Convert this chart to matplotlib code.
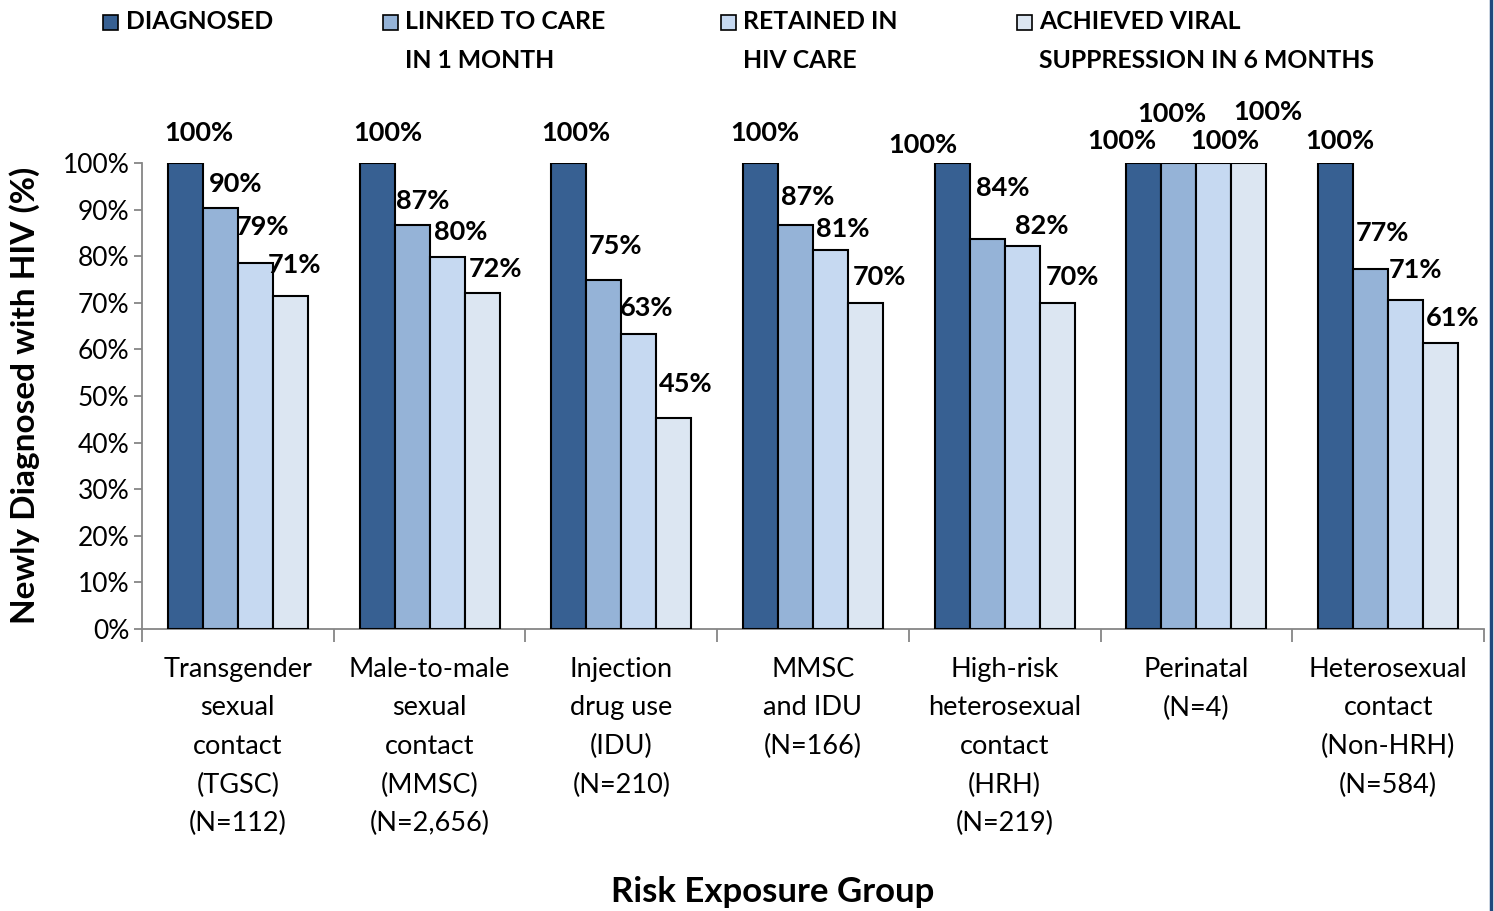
import matplotlib
matplotlib.use("Agg")
import matplotlib.pyplot as plt
from matplotlib.patches import Rectangle
from matplotlib.lines import Line2D

# ---------------- data ----------------
categories = [
    "Transgender\nsexual\ncontact\n(TGSC)\n(N=112)",
    "Male-to-male\nsexual\ncontact\n(MMSC)\n(N=2,656)",
    "Injection\ndrug use\n(IDU)\n(N=210)",
    "MMSC\nand IDU\n(N=166)",
    "High-risk\nheterosexual\ncontact\n(HRH)\n(N=219)",
    "Perinatal\n(N=4)",
    "Heterosexual\ncontact\n(Non-HRH)\n(N=584)",
]
series_names = ["DIAGNOSED", "LINKED TO CARE\nIN 1 MONTH", "RETAINED IN\nHIV CARE",
                "ACHIEVED VIRAL\nSUPPRESSION IN 6 MONTHS"]
diagnosed = [100, 100, 100, 100, 100, 100, 100]
linked = [90.4, 86.7, 74.8, 86.7, 83.6, 100, 77.2]
retained = [78.6, 79.8, 63.3, 81.3, 82.2, 100, 70.7]
suppressed = [71.4, 72.0, 45.2, 69.9, 69.9, 100, 61.4]
yticks = list(range(0, 101, 10))

series = [diagnosed, linked, retained, suppressed]
colors = ["#376092", "#95B3D7", "#C6D9F1", "#DCE6F2"]

# label offsets in pixels (dx, dy) relative to bar top-center
label_offsets = [
    [(13.5, 30), (15.5, 24), (7.5, 36), (4.5, 31)],
    [(10.5, 30), (10.5, 24), (13.5, 25), (13.5, 24)],
    [(7.5, 30), (11.5, 34), (7.5, 26), (11.5, 34)],
    [(4.5, 30), (12.5, 28), (12.5, 21), (14, 26)],
    [(-29.5, 18), (15.5, 51), (19.5, 20), (15, 26)],
    [(-22.5, 22), (-7.5, 49), (10.5, 22), (18.5, 51)],
    [(4.5, 22), (11.5, 36), (9.5, 30), (12.5, 25)],
]

FONT = "Lato"
W, H = 1494, 911
fig = plt.figure(figsize=(W / 100, H / 100), dpi=100)
fig.patch.set_facecolor("white")
ax = fig.add_axes([142 / W, 1 - 629 / H, (1484 - 142) / W, (629 - 163) / H])

n = len(categories)
bw = 35 / ((1484 - 142) / 7)
for s, (vals, c) in enumerate(zip(series, colors)):
    xs = [i + 0.5 + (s - 1.5) * bw for i in range(n)]
    ax.bar(xs, vals, width=bw, color=c, edgecolor="black", linewidth=1.5, zorder=3)
    for i, (x, v) in enumerate(zip(xs, vals)):
        dx, dy = label_offsets[i][s]
        ax.annotate(f"{v:.0f}%", (x, v), xytext=(dx, dy), textcoords="offset pixels",
                    ha="center", va="center", fontsize=19.5, fontweight="bold",
                    family=FONT, color="black", zorder=5)

ax.set_xlim(0, n)
ax.set_ylim(0, 100)
ax.set_yticks(yticks)
ax.set_yticklabels([f"{t}%" for t in yticks], fontsize=19, family=FONT)
ax.set_xticks(range(n + 1))
ax.set_xticklabels([])
ax.set_xticks([i + 0.5 for i in range(n)], minor=True)
ax.set_xticklabels(categories, minor=True, fontsize=19.5, family=FONT, linespacing=1.68, va="top")
ax.tick_params(axis="x", which="major", length=9, color="#868686", width=1.3, direction="out")
ax.tick_params(axis="x", which="minor", length=0, pad=20)
ax.tick_params(axis="y", length=6, color="#868686", width=1.3, pad=3)
for sp in ["top", "right"]:
    ax.spines[sp].set_visible(False)
for sp in ["left", "bottom"]:
    ax.spines[sp].set_color("#868686")
    ax.spines[sp].set_linewidth(1.3)

fig.text(25 / W, 1 - 395 / H, "Newly Diagnosed with HIV (%)", rotation=90, ha="center", va="center",
         fontsize=24, fontweight="bold", family=FONT)
fig.text(773 / W, 1 - 892 / H, "Risk Exposure Group", ha="center", va="center",
         fontsize=25, fontweight="bold", family=FONT)

# legend drawn manually
leg_sq_x = [103, 383, 721, 1017]
leg_tx_x = [126, 405, 743, 1039]
for name, c, sx, tx in zip(series_names, colors, leg_sq_x, leg_tx_x):
    fig.patches.append(Rectangle((sx / W, 1 - 30 / H), 15 / W, 15 / H, transform=fig.transFigure,
                                 facecolor=c, edgecolor="black", linewidth=1.2))
    fig.text(tx / W, 1 - 10 / H, name, ha="left", va="top", fontsize=17.8, fontweight="bold",
             family=FONT, linespacing=1.85)

# right border line
fig.add_artist(Line2D([1491 / W, 1491 / W], [0, 1], transform=fig.transFigure,
                      color="#1F497D", linewidth=2.5))

fig.savefig("out.png", dpi=100)
